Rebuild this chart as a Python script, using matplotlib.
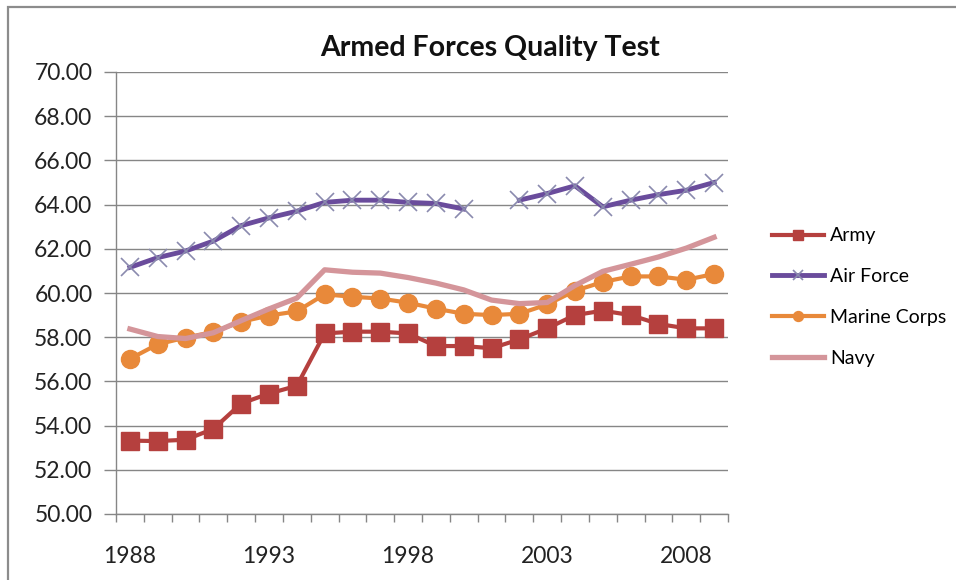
import matplotlib
matplotlib.use("Agg")
import matplotlib.pyplot as plt
import numpy as np
from matplotlib.patches import Rectangle
from matplotlib.ticker import FixedLocator, FormatStrFormatter

plt.rcParams['font.family'] = ['Lato', 'DejaVu Sans']

years = np.arange(1988, 2010)

army = [53.32, 53.30, 53.36, 53.85, 55.00, 55.45, 55.80, 58.17, 58.25, 58.25, 58.17,
        57.60, 57.60, 57.50, 57.90, 58.40, 59.00, 59.20, 59.00, 58.60, 58.40, 58.40]
air_force = [61.16, 61.60, 61.90, 62.35, 63.05, 63.40, 63.70, 64.10, 64.20, 64.20, 64.10,
             64.05, 63.80, np.nan, 64.20, 64.50, 64.85, 63.90, 64.20, 64.45, 64.65, 65.00]
marine_corps = [57.02, 57.68, 57.98, 58.24, 58.70, 58.98, 59.17, 59.94, 59.83, 59.75, 59.56,
                59.29, 59.06, 59.00, 59.06, 59.48, 60.10, 60.50, 60.75, 60.75, 60.60, 60.86]
navy = [58.37, 58.03, 57.94, 58.20, 58.75, 59.28, 59.77, 61.05, 60.94, 60.90, 60.70,
        60.45, 60.14, 59.68, 59.52, 59.57, 60.34, 60.98, 61.30, 61.63, 62.03, 62.52]

label_years = [1988, 1993, 1998, 2003, 2008]
y_ticks = np.arange(50, 71, 2)

fig = plt.figure(figsize=(9.56, 5.8), dpi=100)
fig.patches.append(Rectangle((8 / 956, -0.05), 1.1, 1 - 7 / 580 + 0.05, transform=fig.transFigure,
                             fill=False, edgecolor='#8c8c8c', linewidth=1.6))

ax = fig.add_axes([116 / 956, 1 - 514 / 580, 612 / 956, 442 / 580])

ax.plot(years, army, color='#b5403e', lw=3, marker='s', ms=13, mfc='#b5403e', mec='#b5403e',
        label='Army')
ax.plot(years, air_force, color='#6a4c9c', lw=3.5, marker='x', ms=13, mec='#8a8aae', mew=1.2,
        label='Air Force')
ax.plot(years, marine_corps, color='#e8893a', lw=3, marker='o', ms=13, mfc='#e8893a', mec='#e8893a',
        label='Marine Corps')
ax.plot(years, navy, color='#d4959a', lw=3.8, label='Navy')

ax.set_xlim(1987.5, 2009.5)
ax.set_ylim(50, 70)
ax.set_yticks(y_ticks)
ax.yaxis.set_major_formatter(FormatStrFormatter('%.2f'))
ax.set_xticks(label_years)
ax.xaxis.set_minor_locator(FixedLocator(np.arange(1987.5, 2010, 1)))
ax.tick_params(axis='x', which='major', length=0, pad=23, labelsize=16.5, labelcolor='#222222')
ax.tick_params(axis='x', which='minor', length=6, width=1, color='#868686', direction='out')
ax.tick_params(axis='y', length=9, width=1, color='#868686', pad=8, labelsize=16.5,
               labelcolor='#222222')

ax.grid(axis='y', color='#868686', lw=1)
ax.set_axisbelow(True)
for side in ['top', 'right']:
    ax.spines[side].set_visible(False)
for side in ['left', 'bottom']:
    ax.spines[side].set_color('#868686')
    ax.spines[side].set_linewidth(1)

fig.text(490 / 956, 1 - 48 / 580, 'Armed Forces Quality Test', ha='center', va='center',
         fontsize=20.5, fontweight='bold', color='#111111')

fig.legend(loc='center left', bbox_to_anchor=(762 / 956, 1 - 297 / 580), frameon=False,
           fontsize=14, handlelength=2.7, handletextpad=0.3, labelspacing=1.22, borderpad=0,
           markerscale=0.55)

fig.savefig('out.png', dpi=100)
